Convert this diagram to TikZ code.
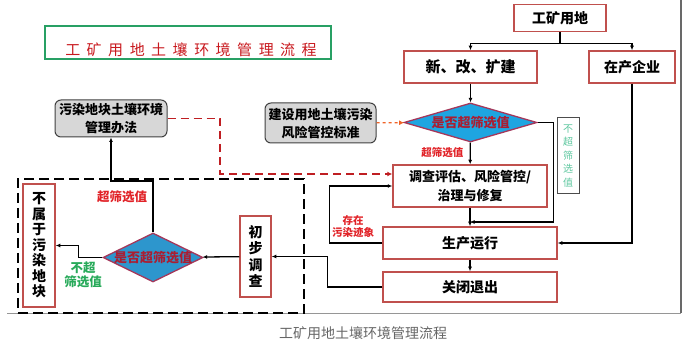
\documentclass[tikz,border=0pt]{standalone}
\usepackage{fontspec}
\setmainfont{Noto Sans CJK SC}
\usetikzlibrary{arrows.meta,shapes.geometric,positioning}
\definecolor{boxred}{RGB}{192,80,77}
\definecolor{diablue}{RGB}{30,165,225}
\definecolor{diablue2}{RGB}{45,150,205}
\definecolor{diaedge}{RGB}{165,55,90}
\definecolor{diatext}{RGB}{170,30,50}
\definecolor{labelred}{RGB}{225,35,40}
\definecolor{labelgreen}{RGB}{40,170,90}
\definecolor{softteal}{RGB}{95,200,160}
\definecolor{titlered}{RGB}{200,25,30}
\definecolor{titlegreen}{RGB}{40,160,100}
\definecolor{rulegray}{RGB}{105,105,105}
\definecolor{boxgray}{RGB}{215,215,215}
\definecolor{dashorange}{RGB}{240,100,40}
\newcommand{\titlegap}{\hspace{6.5pt}}

\begin{document}
\begin{tikzpicture}[x=1pt, y=-1pt,
    box/.style={draw=boxred, line width=1.5pt, fill=white, inner sep=0pt, align=center,
        font=\bfseries\fontsize{14}{17}\selectfont},
    rulebox/.style={draw=black!75, fill=boxgray, line width=1pt, rounded corners=6pt,
        inner sep=0pt, align=center, font=\bfseries\fontsize{13}{18}\selectfont},
    decide/.style={diamond, draw=diaedge, fill=diablue, line width=1.3pt, inner sep=0pt,
        text=diatext, font=\bfseries\fontsize{13}{15}\selectfont},
    conn/.style={line width=1.3pt, -{Latex[length=4.5pt,width=4pt]}},
    redtag/.style={text=labelred, font=\bfseries\fontsize{10.5}{12}\selectfont, align=center},
    greentag/.style={text=labelgreen, font=\bfseries\fontsize{12.5}{14}\selectfont, align=center},
    ]
    \useasboundingbox (0,0) rectangle (693,344);

    % --- frame and caption ---
    \draw[rulegray, line width=2pt] (681,0) -- (681,313.5);
    \draw[rulegray!70, line width=1pt] (7,314) -- (681,314);
    \node[text=black!60, font=\fontsize{14}{15}\selectfont] (caption) at (363,333) {工矿用地土壤环境管理流程};

    % Title
    \node[draw=titlegreen, line width=1.3pt, minimum width=286pt, minimum height=33pt] (title) at (188,42.5) {};
    \node[text=titlered, font=\fontsize{15}{15}\selectfont] (titletext) at (191,50)
        {工\titlegap 矿\titlegap 用\titlegap 地\titlegap 土\titlegap 壤\titlegap 环\titlegap 境\titlegap 管\titlegap 理\titlegap 流\titlegap 程};

    % --- right part: main line ---
    \node[box, minimum width=92pt, minimum height=27pt] (land) at (560,18) {工矿用地};
    \node[box, font=\bfseries\fontsize{15}{17}\selectfont, minimum width=133pt, minimum height=32pt] (newbuild) at (470.5,67) {新、改、扩建};
    \node[box, minimum width=86pt, minimum height=32pt] (running) at (632,67) {在产企业};
    \node[decide, minimum width=133pt, minimum height=39pt] (check1) at (470.5,122.5) {\makebox[0pt]{是否超筛选值}};
    \node[rulebox, minimum width=111pt, minimum height=40pt] (standard) at (320.5,123) {建设用地土壤污染\\风险管控标准};
    \node[box, font=\bfseries\fontsize{13}{19}\selectfont, minimum width=154pt, minimum height=42pt] (survey) at (470,186) {调查评估、风险管控/\\治理与修复};
    \node[box, minimum width=174pt, minimum height=32pt] (operate) at (470,243) {生产运行};
    \node[box, minimum width=174pt, minimum height=30pt] (close) at (470,287) {关闭退出};
    \node[draw=black!70, line width=1pt, fill=white, inner sep=0pt, minimum width=22pt, minimum height=76pt,
        text=softteal, align=center, font=\fontsize{10}{13.5}\selectfont] (notover1) at (568,156) {不\\超\\筛\\选\\值};

    \draw[conn] (land.south) -- ++(0,11) -| (newbuild.north);
    \draw[conn] (land.south) -- ++(0,11) -| (running.north);
    \draw[conn] (newbuild) -- (check1);
    \draw[dashorange, line width=1.3pt, dashed, -{Latex[length=5pt,width=5pt]}] (standard) -- (check1);
    \draw[conn] (check1) -- (survey) node[redtag, pos=0.45, left=3pt] {超筛选值};
    \coordinate (join) at (470,222);
    \draw[conn] (check1.east) -- ++(16,0) |- (join);
    \draw[conn] (survey) -- (operate);
    \draw[conn] (running.south) |- (operate.east);
    \draw[conn] (operate) -- (close);
    \draw[conn] (operate.west) -- ++(-53,0) |- (survey.west);
    \node[redtag] (trace) at (353,227) {存在\\污染迹象};

    % --- left part: polluted site ---
    \node[rulebox, minimum width=112pt, minimum height=37pt] (rules) at (111,118.5) {污染地块土壤环境\\管理办法};
    \draw[labelred!85!black, line width=1.8pt, dash pattern=on 8pt off 5pt, -{Latex[length=5pt,width=5pt]}]
        (rules.east) -| (220,174) -- ([yshift=12pt]survey.west);

    \node[draw, line width=2.2pt, dash pattern=on 10pt off 5pt, minimum width=286pt, minimum height=134pt] (zone) at (161,246) {};
    \node[box, font=\bfseries\fontsize{14}{15.5}\selectfont, minimum width=32pt, minimum height=123pt] (notsite) at (39,245.5) {不\\属\\于\\污\\染\\地\\块};
    \node[decide, fill=diablue2, minimum width=100pt, minimum height=49pt] (check2) at (153,257.5) {\makebox[0pt]{是否超筛选值}};
    \node[box, font=\bfseries\fontsize{14}{16.5}\selectfont, minimum width=31pt, minimum height=81pt] (prelim) at (255.5,256.5) {初\\步\\调\\查};

    \draw[conn] (close.west) -- ++(-55,0) |- (prelim.east);
    \draw[conn] (prelim) -- (check2);
    \draw[conn] (check2.west) -- ++(-24,0) |- (notsite.east);
    \node[greentag] (notover2) at (83,275) {不超\\筛选值};
    \draw[conn] (check2.north) -- (153,181) -| (rules.south);
    \node[text=labelred, font=\bfseries\fontsize{12.5}{14}\selectfont] (over2) at (122,197) {超筛选值};
\end{tikzpicture}
\end{document}
